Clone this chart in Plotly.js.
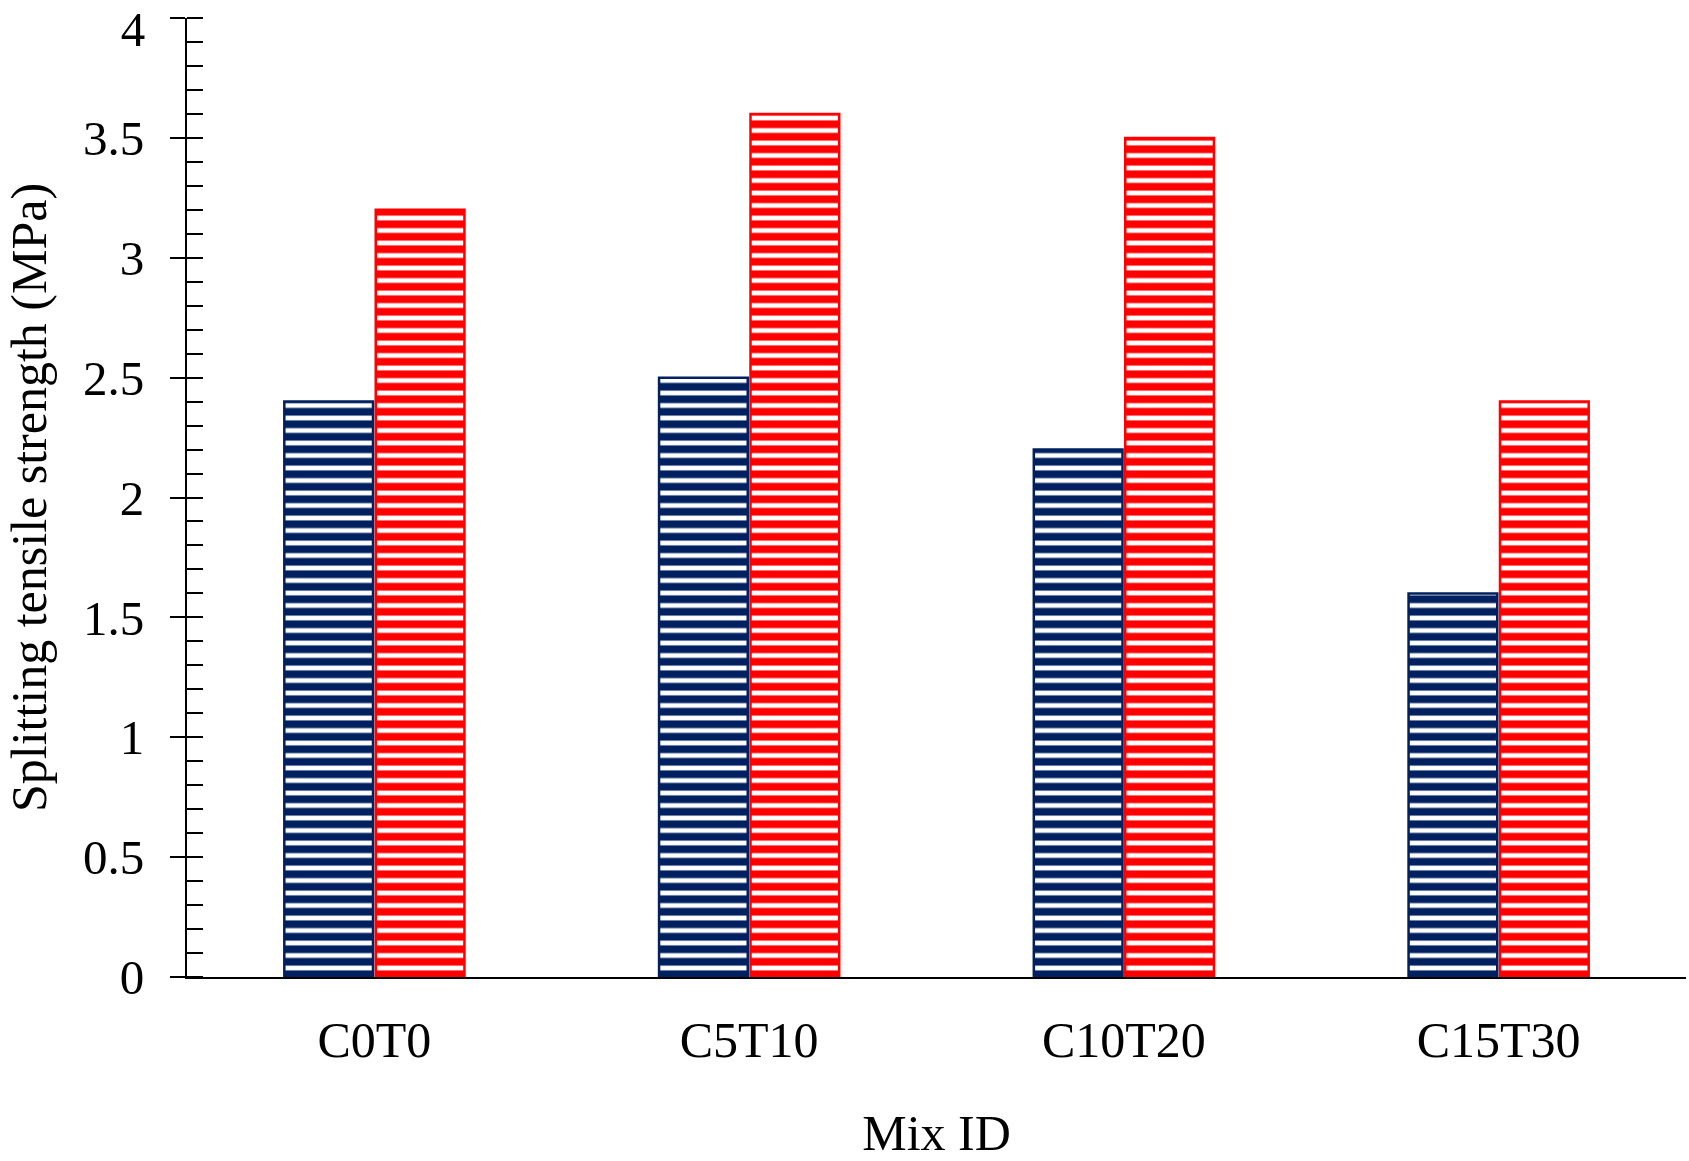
<!DOCTYPE html>
<html>
<head>
<meta charset="utf-8">
<script src="https://cdn.plot.ly/plotly-3.0.1.min.js"></script>
<style>html,body{margin:0;padding:0;background:#fff;}#chart{width:1689px;height:1161px;}</style>
</head>
<body>
<div id="chart"></div>
<script>
const mixIds = ["C0T0", "C5T10", "C10T20", "C15T30"];
const seriesA = [2.4, 2.5, 2.2, 1.6];
const seriesB = [3.2, 3.6, 3.5, 2.4];
const yTickVals = [0, 0.5, 1, 1.5, 2, 2.5, 3, 3.5, 4];
const yTickText = ["0", "0.5", "1", "1.5", "2", "2.5", "3", "3.5", ""];
const yTopVal = [4];
const yTopText = ["4"];

const navy = "#002060";
const red = "#FF0000";
const serif = "Liberation Serif, Times New Roman, serif";

function barTrace(vals, col, name) {
  return {
    type: "bar", x: mixIds, y: vals, name: name,
    marker: {
      color: "white",
      line: {color: col, width: 2.5},
      pattern: {shape: "-", fgcolor: col, bgcolor: "white", fgopacity: 1, size: 12.5, solidity: 0.62, fillmode: "overlay"}
    },
    hoverinfo: "skip"
  };
}

const data = [
  barTrace(seriesA, navy, "A"),
  barTrace(seriesB, red, "B"),
  {type: "scatter", x: [mixIds[0]], y: [0], yaxis: "y2", mode: "markers",
   marker: {opacity: 0}, showlegend: false, hoverinfo: "skip"},
  {type: "scatter", x: [mixIds[0]], y: [1], yaxis: "y3", mode: "markers",
   marker: {opacity: 0}, showlegend: false, hoverinfo: "skip"}
];

// the top label sits a little below its tick in the reference
const topShift = 11 / 239.75;

const layout = {
  width: 1689, height: 1161,
  margin: {l: 187, r: 3, t: 18, b: 184},
  paper_bgcolor: "white", plot_bgcolor: "white",
  showlegend: false,
  barmode: "group", bargap: 0.512, bargroupgap: 0.03,
  font: {family: serif, color: "#000"},
  xaxis: {
    type: "category",
    showline: true, linecolor: "#000", linewidth: 2,
    ticks: "", showgrid: false, zeroline: false,
    tickfont: {family: serif, size: 50, color: "#000"},
    ticklabelstandoff: 18,
    title: {text: "Mix ID", font: {family: serif, size: 50, color: "#000"}, standoff: 58}
  },
  yaxis: {
    range: [0, 4], showline: true, linecolor: "#000", linewidth: 2,
    showgrid: false, zeroline: false,
    tickmode: "array", tickvals: yTickVals, ticktext: yTickText,
    ticks: "outside", ticklen: 15, tickwidth: 2, tickcolor: "#000",
    minor: {dtick: 0.1, ticks: "inside", ticklen: 16, tickwidth: 2, tickcolor: "#000", showgrid: false},
    tickfont: {family: serif, size: 49, color: "#000"},
    ticklabelstandoff: 16,
    title: {text: "Splitting tensile strength (MPa)", font: {family: serif, size: 50, color: "#000"}, standoff: 20}
  },
  yaxis2: {
    overlaying: "y", side: "left", range: [0, 4],
    tickmode: "array", tickvals: yTickVals,
    ticks: "inside", ticklen: 16, tickwidth: 2, tickcolor: "#000",
    showticklabels: false, showline: false, showgrid: false, zeroline: false
  },
  yaxis3: {
    overlaying: "y", side: "left", range: [topShift, 4 + topShift],
    tickmode: "array", tickvals: yTopVal, ticktext: yTopText,
    ticks: "outside", ticklen: 15, tickcolor: "rgba(0,0,0,0)",
    tickfont: {family: serif, size: 49, color: "#000"},
    ticklabelstandoff: 16, ticklabeloverflow: "allow",
    showline: false, showgrid: false, zeroline: false
  }
};

Plotly.newPlot("chart", data, layout, {displayModeBar: false, staticPlot: true});
</script>
</body>
</html>
